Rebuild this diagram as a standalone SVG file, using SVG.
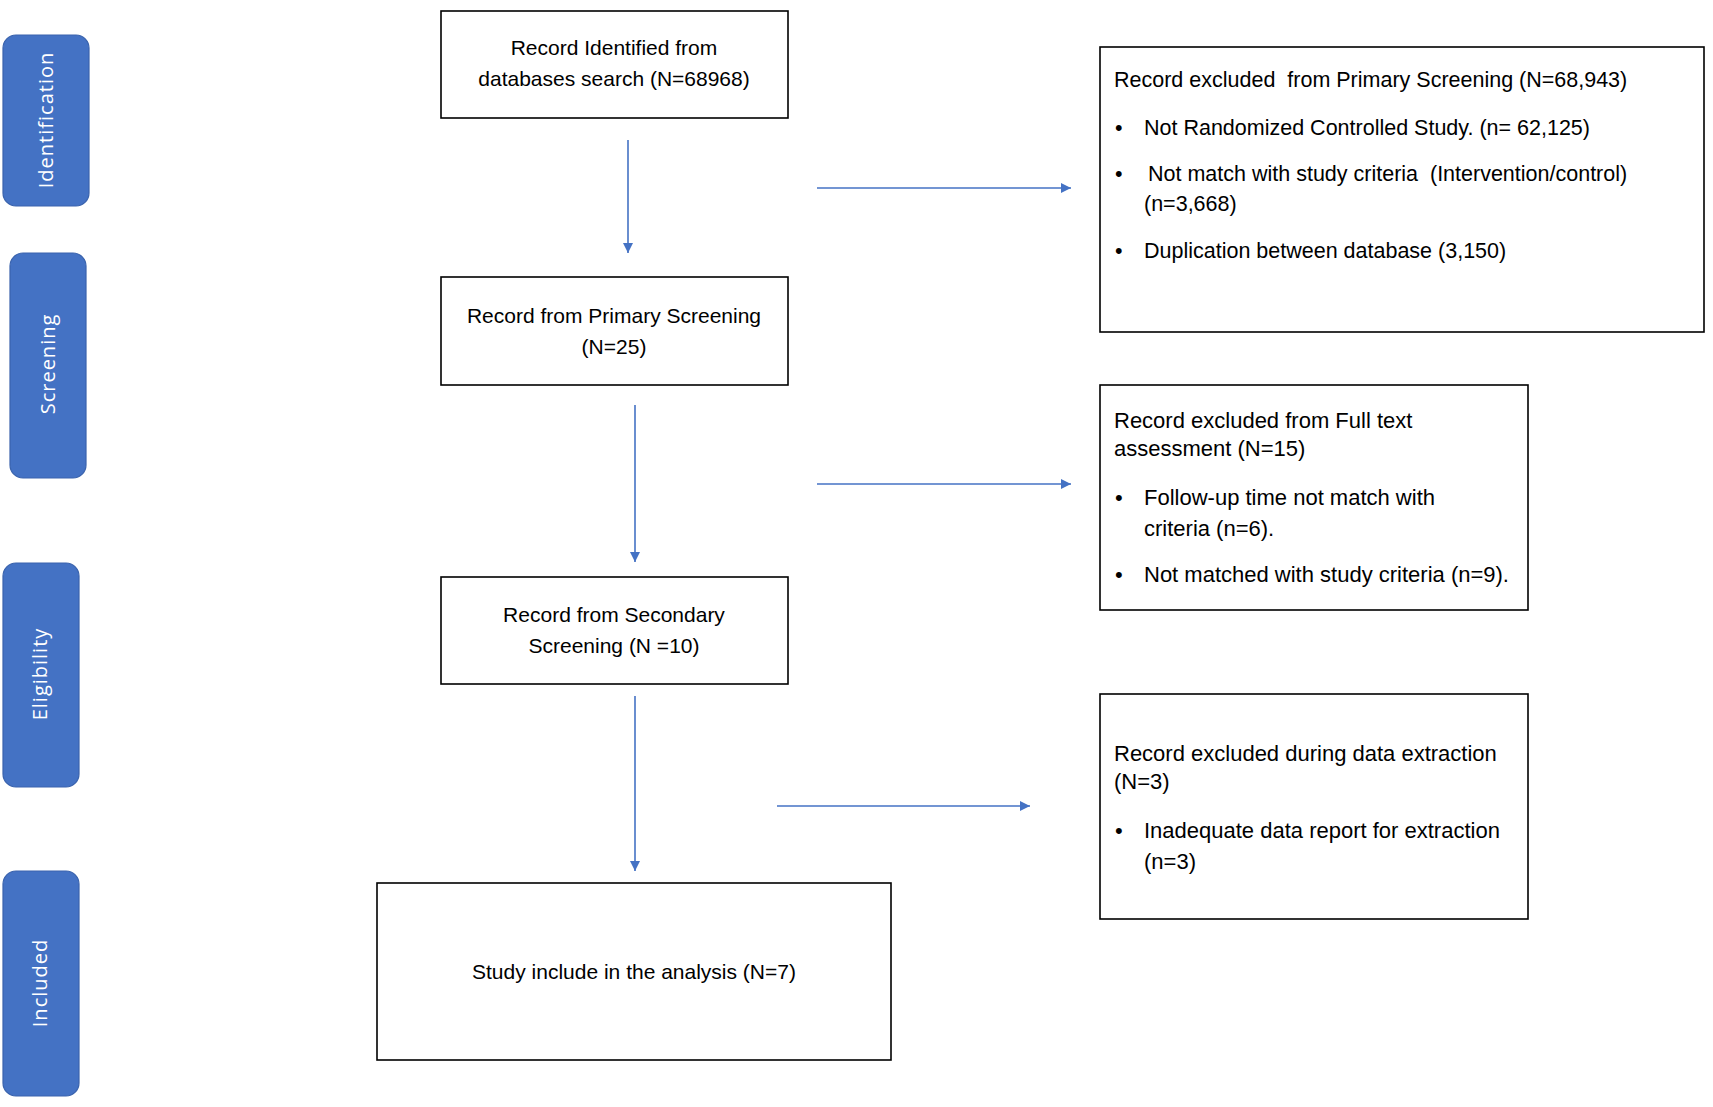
<svg xmlns="http://www.w3.org/2000/svg" width="1713" height="1107" viewBox="0 0 1713 1107">
<style>
.box{fill:#fff;stroke:#000;stroke-width:1.6}
.lab{fill:#4472C4;stroke:#3A63AD;stroke-width:1.2}
.t{font-family:"Liberation Sans",Arial,sans-serif;font-size:21px;fill:#000}
.r1{font-size:21.5px}
.r2{font-size:22px}
.c{text-anchor:middle}
.lt{font-family:"Open Sans","Liberation Sans",sans-serif;font-size:20px;fill:#fff;text-anchor:middle;letter-spacing:1px}
.con{stroke:#4472C4;stroke-width:1.6;fill:none;marker-end:url(#ah)}
</style>
<defs>
<marker id="ah" viewBox="0 0 10 10" refX="10" refY="5" markerWidth="12" markerHeight="10" markerUnits="userSpaceOnUse" orient="auto">
<path d="M0,0 L10,5 L0,10 z" fill="#4472C4"/>
</marker>
</defs>
<rect width="1713" height="1107" fill="#fff"/>

<g id="label-identification">
<rect class="lab" x="3" y="35" width="86" height="171" rx="13"/>
<text class="lt" transform="translate(53,120) rotate(-90)">Identification</text>
</g>
<g id="label-screening">
<rect class="lab" x="10" y="253" width="76" height="225" rx="13"/>
<text class="lt" transform="translate(55,364) rotate(-90)">Screening</text>
</g>
<g id="label-eligibility">
<rect class="lab" x="3" y="563" width="76" height="224" rx="13"/>
<text class="lt" transform="translate(47,674) rotate(-90)">Eligibility</text>
</g>
<g id="label-included">
<rect class="lab" x="3" y="871" width="76" height="225" rx="13"/>
<text class="lt" transform="translate(47,983) rotate(-90)">Included</text>
</g>

<g id="box-identified">
<rect class="box" x="441" y="11" width="347" height="107"/>
<text class="t c" x="614" y="55">Record Identified from</text>
<text class="t c" x="614" y="86">databases search (N=68968)</text>
</g>
<g id="box-primary">
<rect class="box" x="441" y="277" width="347" height="108"/>
<text class="t c" x="614" y="323">Record from Primary Screening</text>
<text class="t c" x="614" y="354">(N=25)</text>
</g>
<g id="box-secondary">
<rect class="box" x="441" y="577" width="347" height="107"/>
<text class="t c" x="614" y="622">Record from Secondary</text>
<text class="t c" x="614" y="653">Screening (N =10)</text>
</g>
<g id="box-included">
<rect class="box" x="377" y="883" width="514" height="177"/>
<text class="t c" x="634" y="979">Study include in the analysis (N=7)</text>
</g>

<g id="box-excl-primary">
<rect class="box" x="1100" y="47" width="604" height="285"/>
<text class="t r1" x="1114" y="87" xml:space="preserve">Record excluded  from Primary Screening (N=68,943)</text>
<text class="t r1" x="1115" y="135">•</text>
<text class="t r1" x="1144" y="135">Not Randomized Controlled Study. (n= 62,125)</text>
<text class="t r1" x="1115" y="181">•</text>
<text class="t r1" x="1148" y="181" xml:space="preserve">Not match with study criteria  (Intervention/control)</text>
<text class="t r1" x="1144" y="211">(n=3,668)</text>
<text class="t r1" x="1115" y="258">•</text>
<text class="t r1" x="1144" y="258">Duplication between database (3,150)</text>
</g>
<g id="box-excl-fulltext">
<rect class="box" x="1100" y="385" width="428" height="225"/>
<text class="t r2" x="1114" y="428">Record excluded from Full text</text>
<text class="t r2" x="1114" y="456">assessment (N=15)</text>
<text class="t r2" x="1115" y="505">•</text>
<text class="t r2" x="1144" y="505">Follow-up time not match with</text>
<text class="t r2" x="1144" y="536">criteria (n=6).</text>
<text class="t r2" x="1115" y="582">•</text>
<text class="t r2" x="1144" y="582">Not matched with study criteria (n=9).</text>
</g>
<g id="box-excl-extraction">
<rect class="box" x="1100" y="694" width="428" height="225"/>
<text class="t r2" x="1114" y="761">Record excluded during data extraction</text>
<text class="t r2" x="1114" y="789">(N=3)</text>
<text class="t r2" x="1115" y="838">•</text>
<text class="t r2" x="1144" y="838">Inadequate data report for extraction</text>
<text class="t r2" x="1144" y="869">(n=3)</text>
</g>

<g id="connectors">
<line class="con" x1="628" y1="140" x2="628" y2="253"/>
<line class="con" x1="635" y1="405" x2="635" y2="562"/>
<line class="con" x1="635" y1="696" x2="635" y2="871"/>
<line class="con" x1="817" y1="188" x2="1071" y2="188"/>
<line class="con" x1="817" y1="484" x2="1071" y2="484"/>
<line class="con" x1="777" y1="806" x2="1030" y2="806"/>
</g>
</svg>
